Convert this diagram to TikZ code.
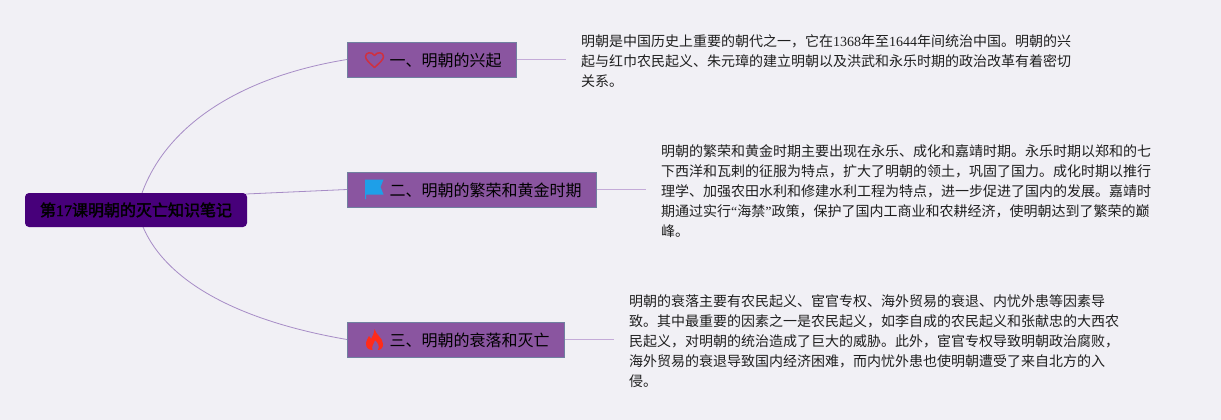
\documentclass[tikz,border=0pt]{standalone}
\usepackage{fontspec}
\setmainfont{Noto Sans CJK SC}
\newfontfamily\lat{Liberation Serif}
\newfontfamily\cjkfake[FakeBold=2]{Noto Sans CJK SC}
\newfontfamily\latfake[FakeBold=2]{Liberation Serif}
\definecolor{bg}{HTML}{F1F0F5}
\definecolor{rootfill}{HTML}{47007A}
\definecolor{branchfill}{HTML}{8A55A0}
\definecolor{branchedge}{HTML}{7080A0}
\definecolor{curveline}{HTML}{A78CC6}
\definecolor{leafline}{HTML}{C4ABD8}
\definecolor{heartred}{HTML}{D0303F}
\definecolor{flagblue}{HTML}{1E9FE8}
\definecolor{flamered}{HTML}{FF2B1A}
\tikzset{
  rootbox/.style={fill=rootfill,rounded corners=4pt,minimum width=222pt,minimum height=34pt,inner sep=0pt,text=black,font=\fontsize{16}{20}\selectfont},
  branchbox/.style={draw=branchedge,line width=0.8pt,fill=branchfill,minimum height=35pt,inner sep=0pt,anchor=west},
  branchtext/.style={anchor=west,inner sep=0pt,text=black,font=\fontsize{16}{20}\selectfont},
  bodytext/.style={anchor=west,align=left,inner sep=0pt,text=black!88,font=\fontsize{14}{20}\selectfont},
  curve/.style={draw=curveline,line width=0.8pt},
  leaf/.style={draw=leafline,line width=1.2pt}
}
\begin{document}
\begin{tikzpicture}[x=1pt,y=-1pt]
\useasboundingbox[fill=bg] (0,0) rectangle (1221,420);
\coordinate (e1) at (566,59.5);
\coordinate (e2) at (646,189.5);
\coordinate (e3) at (614,339.5);
\coordinate (r1) at (142,193);
\coordinate (r2) at (246,194);
\coordinate (r3) at (143,227);
\node[branchbox,minimum width=169pt] (b1) at (347,59.5) {};
\node[branchbox,minimum width=249pt] (b2) at (347,189.5) {};
\node[branchbox,minimum width=217pt] (b3) at (347,339.5) {};
\path[curve] (r1) .. controls (168,122) and (245,76) .. (b1.west);
\path[curve] (r2) -- (b2.west);
\path[curve] (r3) .. controls (168,285) and (245,322) .. (b3.west);
\path[leaf] (b1.east) -- (e1);
\path[leaf] (b2.east) -- (e2);
\path[leaf] (b3.east) -- (e3);
\node[rootbox] (root) at (136,210) {\cjkfake 第{\latfake 17}课明朝的灭亡知识笔记};
\node[branchtext] (t1) at (389.5,60.5) {一、明朝的兴起};
\node[branchtext] (t2) at (389.5,190.5) {二、明朝的繁荣和黄金时期};
\node[branchtext] (t3) at (389.5,340.5) {三、明朝的衰落和灭亡};
% heart
\draw[draw=heartred,line width=1.5pt,line join=round]
  (374.5,67.5) .. controls (369,62.5) and (365.5,59.5) .. (365.5,56.5)
  .. controls (365.5,52.5) and (371.5,51) .. (374.5,55.5)
  .. controls (377.5,51) and (383.5,52.5) .. (383.5,56.5)
  .. controls (383.5,59.5) and (380,62.5) .. (374.5,67.5) -- cycle;
% flag
\fill[fill=flagblue] (365,179.5) -- (383.5,179.5) -- (380.5,187) -- (383.5,194.5) -- (366,194.5) -- (366,199) -- (365,199) -- cycle;
% flame
\fill[fill=flamered]
  (374.5,329) .. controls (376,335) and (383,338) .. (383,344)
  .. controls (383.5,348) and (380,350) .. (378,350)
  .. controls (380,346) and (378,343) .. (375,340)
  .. controls (374,344) and (371,346) .. (372.5,350)
  .. controls (369,350) and (366,348) .. (366,344)
  .. controls (366,340) and (368,339) .. (369,336)
  .. controls (370,337) and (371,338) .. (371,339)
  .. controls (373,336) and (374,333) .. (374.5,329) -- cycle;
\node[bodytext] (d1) at (581,61) {明朝是中国历史上重要的朝代之一，它在{\lat 1368}年至{\lat 1644}年间统治中国。明朝的兴\\起与红巾农民起义、朱元璋的建立明朝以及洪武和永乐时期的政治改革有着密切\\关系。};
\node[bodytext] (d2) at (661,191) {明朝的繁荣和黄金时期主要出现在永乐、成化和嘉靖时期。永乐时期以郑和的七\\下西洋和瓦剌的征服为特点，扩大了明朝的领土，巩固了国力。成化时期以推行\\理学、加强农田水利和修建水利工程为特点，进一步促进了国内的发展。嘉靖时\\期通过实行{\lat “}海禁{\lat ”}政策，保护了国内工商业和农耕经济，使明朝达到了繁荣的巅\\峰。};
\node[bodytext] (d3) at (629,341) {明朝的衰落主要有农民起义、宦官专权、海外贸易的衰退、内忧外患等因素导\\致。其中最重要的因素之一是农民起义，如李自成的农民起义和张献忠的大西农\\民起义，对明朝的统治造成了巨大的威胁。此外，宦官专权导致明朝政治腐败，\\海外贸易的衰退导致国内经济困难，而内忧外患也使明朝遭受了来自北方的入\\侵。};
\end{tikzpicture}
\end{document}
